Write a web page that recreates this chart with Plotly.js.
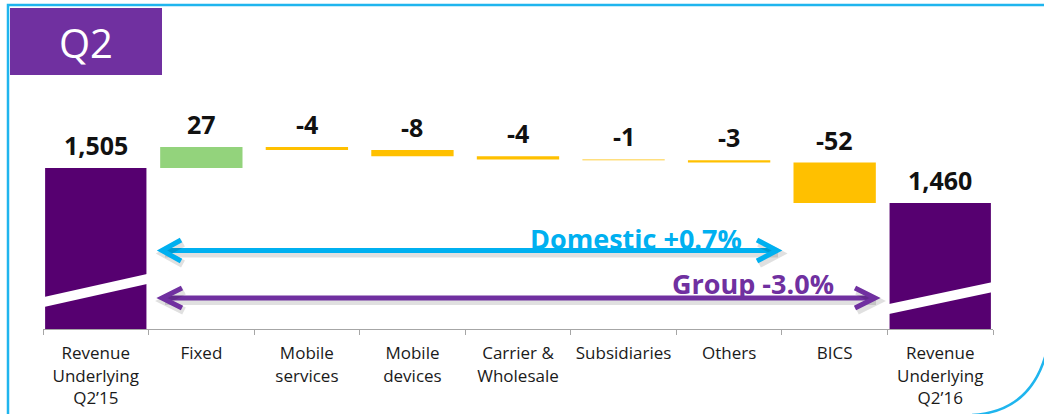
<!DOCTYPE html>
<html>
<head>
<meta charset="utf-8">
<script src="https://cdn.plot.ly/plotly-3.0.1.min.js"></script>
<style>html,body{margin:0;padding:0;background:#fff;}#chart{width:1044px;height:414px;}</style>
</head>
<body>
<div id="chart"></div>
<script>
// ---- data ----
var categories = ['Revenue<br>Underlying<br>Q2\u201915', 'Fixed', 'Mobile<br>services', 'Mobile<br>devices',
  'Carrier &<br>Wholesale', 'Subsidiaries', 'Others', 'BICS', 'Revenue<br>Underlying<br>Q2\u201916'];
var values = [1505, 27, -4, -8, -4, -1, -3, -52, 1460];
var measures = ['absolute', 'relative', 'relative', 'relative', 'relative', 'relative', 'relative', 'relative', 'absolute'];
var valueLabels = ['1,505', '27', '-4', '-8', '-4', '-1', '-3', '-52', '1,460'];
var domesticLabel = 'Domestic +0.7%';
var groupLabel = 'Group -3.0%';
var badgeLabel = 'Q2';

// ---- layout geometry (pixels) ----
var W = 1044, H = 414;
var mL = 43, mR = 51, mT = 60, mB = 85;
var plotW = W - mL - mR, plotH = H - mT - mB;
function X(px) { return (px - mL) / plotW; }
function Y(py) { return (H - mB - py) / plotH; }
function P(pts) { return pts.map(function (p, i) { return (i === 0 ? 'M' : 'L') + X(p[0]) + ',' + Y(p[1]); }).join(' '); }

var purple = '#560070', green = '#93D37C', yellow = '#FFC000';
var blue = '#00B0F0', violet = '#7030A0', frameBlue = '#1FB5EE';

var widths = values.map(function (v, i) { return (i === 0 || i === values.length - 1) ? 0.96 : 0.78; });

// tops of bars for labels
var tops = [], run = 0;
for (var i = 0; i < values.length; i++) {
  if (measures[i] === 'absolute') { run = values[i]; tops.push(run); }
  else { var s = run; run += values[i]; tops.push(Math.max(s, run)); }
}

var trace = {
  type: 'waterfall',
  x: categories,
  y: values,
  measure: measures,
  width: widths,
  textinfo: 'none',
  hoverinfo: 'skip',
  connector: { visible: false },
  increasing: { marker: { color: green } },
  decreasing: { marker: { color: yellow } },
  totals: { marker: { color: purple } }
};

var annotations = categories.map(function (c, i) {
  return {
    x: c, y: tops[i], xref: 'x', yref: 'y', text: valueLabels[i], showarrow: false,
    yanchor: 'bottom', yshift: 4,
    font: { family: 'Open Sans', size: 25, color: '#111111', weight: 700 }
  };
});
annotations.push({
  xref: 'paper', yref: 'paper', x: X(636), y: Y(238), text: '<b>' + domesticLabel + '</b>', showarrow: false,
  xanchor: 'center', yanchor: 'middle', font: { family: 'Open Sans', size: 27, color: blue }
});
annotations.push({
  xref: 'paper', yref: 'paper', x: X(753), y: Y(283), text: '<b>' + groupLabel + '</b>', showarrow: false,
  xanchor: 'center', yanchor: 'middle', font: { family: 'Open Sans', size: 27, color: violet }
});
annotations.push({
  xref: 'paper', yref: 'paper', x: X(86), y: Y(43), text: badgeLabel, showarrow: false,
  xanchor: 'center', yanchor: 'middle', font: { family: 'Open Sans', size: 40, color: '#ffffff' }
});

function pathShape(pts, color, width, extra) {
  var s = { type: 'path', xref: 'paper', yref: 'paper', path: P(pts), line: { color: color, width: width }, layer: 'above' };
  if (extra) for (var k in extra) s[k] = extra[k];
  return s;
}
function shadowed(pts, color, width) {
  var sh = pts.map(function (p) { return [p[0] + 2, p[1] + 3]; });
  return [pathShape(sh, 'rgba(0,0,0,0.12)', width + 3), pathShape(pts, color, width)];
}

var shapes = [];
// frame
shapes.push({ type: 'path', xref: 'paper', yref: 'paper', layer: 'below', line: { color: frameBlue, width: 2.5 },
  path: P([[1046, 5], [8, 5], [8, 416]]) });
shapes.push({ type: 'path', xref: 'paper', yref: 'paper', layer: 'below', line: { color: frameBlue, width: 2.5 },
  path: 'M' + X(972) + ',' + Y(415) + ' C' + X(1008) + ',' + Y(413) + ' ' + X(1036) + ',' + Y(395) + ' ' + X(1047) + ',' + Y(350) });
// badge
shapes.push({ type: 'rect', xref: 'paper', yref: 'paper', x0: X(10), x1: X(162), y0: Y(75), y1: Y(8),
  fillcolor: violet, line: { width: 0 }, layer: 'below' });
// axis break stripes
shapes.push(pathShape([[44, 297], [147, 274], [147, 284], [44, 307], [44, 297]], 'rgba(0,0,0,0)', 0, { fillcolor: '#ffffff' }));
shapes.push(pathShape([[889, 304], [993, 282], [993, 292], [889, 314], [889, 304]], 'rgba(0,0,0,0)', 0, { fillcolor: '#ffffff' }));
// blue double arrow
shapes = shapes.concat(shadowed([[163, 250.5], [776, 250.5]], blue, 5));
shapes = shapes.concat(shadowed([[181, 240], [162, 250.5], [181, 261]], blue, 5));
shapes = shapes.concat(shadowed([[757, 240], [777, 250.5], [757, 261]], blue, 5));
// purple double arrow
shapes = shapes.concat(shadowed([[163, 298], [874, 298]], violet, 5));
shapes = shapes.concat(shadowed([[182, 288], [162, 298], [182, 308]], violet, 5));
shapes = shapes.concat(shadowed([[855, 288], [875, 298], [855, 308]], violet, 5));

var layout = {
  width: W, height: H,
  margin: { l: mL, r: mR, t: mT, b: mB, pad: 0 },
  paper_bgcolor: '#ffffff', plot_bgcolor: '#ffffff',
  showlegend: false,
  font: { family: 'Open Sans', color: '#1a1a1a' },
  xaxis: {
    type: 'category', range: [-0.5, 8.5], fixedrange: true,
    showline: true, linecolor: '#A6A6A6', linewidth: 1,
    ticks: 'outside', tickson: 'boundaries', ticklen: 5, tickcolor: '#A6A6A6',
    showgrid: false, zeroline: false, tickangle: 0, automargin: false,
    tickfont: { family: 'Open Sans', size: 17, color: '#1a1a1a' },
    ticklabelstandoff: 9
  },
  yaxis: { range: [1298, 1643.8], visible: false, fixedrange: true, showgrid: false, zeroline: false },
  annotations: annotations,
  shapes: shapes
};

Plotly.newPlot('chart', [trace], layout, { displayModeBar: false, staticPlot: true });
</script>
</body>
</html>
